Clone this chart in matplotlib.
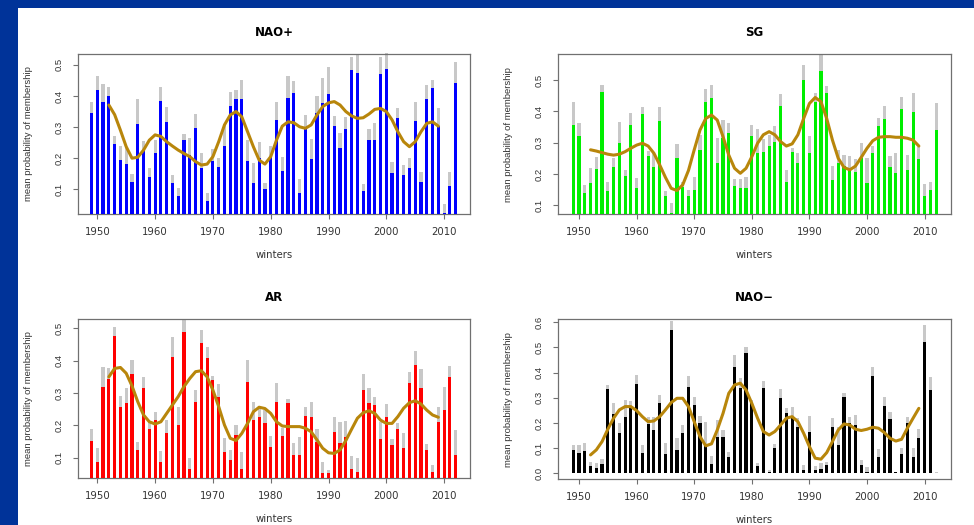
import numpy as np
import matplotlib
matplotlib.use("Agg")
import matplotlib.pyplot as plt
from matplotlib.patches import Rectangle

years = np.arange(1949, 2013)
smooth_years = np.arange(1952, 2010)
xtick_years = [1950, 1960, 1970, 1980, 1990, 2000, 2010]

# ---------------- NAO+ ----------------
naop_mean = [0.345, 0.42, 0.38, 0.40, 0.245, 0.195, 0.18, 0.125, 0.31, 0.226,
             0.138, 0.218, 0.385, 0.317, 0.12, 0.08, 0.258, 0.21, 0.296, 0.17,
             0.064, 0.192, 0.173, 0.24, 0.368, 0.39, 0.39, 0.19, 0.121, 0.2,
             0.1, 0.205, 0.323, 0.16, 0.393, 0.409, 0.087, 0.299, 0.196, 0.346,
             0.379, 0.406, 0.304, 0.232, 0.293, 0.484, 0.473, 0.096, 0.259, 0.259,
             0.47, 0.488, 0.154, 0.33, 0.146, 0.167, 0.32, 0.125, 0.389, 0.425,
             0.304, 0.025, 0.111, 0.441]
naop_upper = [0.38, 0.465, 0.44, 0.43, 0.27, 0.24, 0.237, 0.15, 0.39, 0.256,
              0.17, 0.26, 0.43, 0.363, 0.146, 0.103, 0.277, 0.265, 0.342, 0.218,
              0.087, 0.228, 0.2, 0.31, 0.414, 0.42, 0.453, 0.258, 0.183, 0.253,
              0.121, 0.239, 0.382, 0.203, 0.464, 0.449, 0.132, 0.339, 0.261, 0.4,
              0.457, 0.492, 0.336, 0.28, 0.331, 0.524, 0.532, 0.117, 0.293, 0.312,
              0.526, 0.537, 0.189, 0.36, 0.178, 0.2, 0.382, 0.157, 0.435, 0.451,
              0.36, 0.053, 0.157, 0.51]
naop_smooth = [0.371, 0.34, 0.29, 0.237, 0.2, 0.203, 0.226, 0.258, 0.275, 0.27,
               0.253, 0.239, 0.226, 0.215, 0.205, 0.189, 0.178, 0.181, 0.205, 0.253,
               0.307, 0.339, 0.35, 0.333, 0.285, 0.237, 0.194, 0.181, 0.205, 0.258,
               0.303, 0.317, 0.314, 0.301, 0.296, 0.307, 0.339, 0.366, 0.378, 0.382,
               0.371, 0.35, 0.336, 0.328, 0.33, 0.342, 0.357, 0.36, 0.35, 0.323,
               0.285, 0.253, 0.237, 0.253, 0.285, 0.312, 0.317, 0.303]

# ---------------- SG ----------------
sg_mean = [0.355, 0.321, 0.14, 0.17, 0.215, 0.463, 0.144, 0.223, 0.298, 0.193,
           0.356, 0.154, 0.391, 0.257, 0.221, 0.37, 0.128, 0.076, 0.25, 0.159,
           0.128, 0.149, 0.277, 0.431, 0.441, 0.235, 0.314, 0.332, 0.16, 0.154,
           0.154, 0.321, 0.268, 0.271, 0.289, 0.303, 0.417, 0.175, 0.271, 0.236,
           0.5, 0.268, 0.431, 0.53, 0.457, 0.181, 0.234, 0.225, 0.218, 0.207,
           0.25, 0.17, 0.268, 0.353, 0.374, 0.223, 0.204, 0.406, 0.213, 0.399,
           0.247, 0.128, 0.149, 0.34]
sg_upper = [0.43, 0.364, 0.165, 0.218, 0.255, 0.484, 0.175, 0.25, 0.367, 0.211,
            0.394, 0.186, 0.415, 0.274, 0.266, 0.415, 0.147, 0.106, 0.296, 0.175,
            0.149, 0.191, 0.324, 0.47, 0.484, 0.315, 0.372, 0.362, 0.183, 0.183,
            0.189, 0.356, 0.345, 0.311, 0.325, 0.353, 0.455, 0.213, 0.282, 0.268,
            0.548, 0.32, 0.459, 0.58, 0.48, 0.225, 0.276, 0.26, 0.257, 0.247,
            0.298, 0.25, 0.289, 0.377, 0.417, 0.257, 0.266, 0.447, 0.26, 0.457,
            0.287, 0.168, 0.175, 0.425]
sg_smooth = [0.277, 0.273, 0.268, 0.263, 0.26, 0.263, 0.271, 0.282, 0.292, 0.298,
             0.289, 0.266, 0.229, 0.189, 0.154, 0.147, 0.165, 0.211, 0.277, 0.34,
             0.377, 0.388, 0.372, 0.319, 0.26, 0.218, 0.202, 0.218, 0.255, 0.298,
             0.325, 0.335, 0.325, 0.303, 0.289, 0.296, 0.325, 0.377, 0.425, 0.444,
             0.431, 0.377, 0.308, 0.25, 0.221, 0.213, 0.225, 0.253, 0.282, 0.306,
             0.317, 0.319, 0.319, 0.317, 0.317, 0.314, 0.308, 0.289]

# ---------------- AR ----------------
ar_mean = [0.15, 0.085, 0.318, 0.342, 0.475, 0.258, 0.268, 0.36, 0.124, 0.314,
           0.188, 0.216, 0.088, 0.177, 0.41, 0.201, 0.49, 0.064, 0.273, 0.454,
           0.407, 0.34, 0.289, 0.119, 0.093, 0.17, 0.064, 0.335, 0.216, 0.225,
           0.208, 0.134, 0.273, 0.167, 0.268, 0.108, 0.108, 0.229, 0.227, 0.149,
           0.052, 0.054, 0.18, 0.144, 0.165, 0.064, 0.057, 0.309, 0.27, 0.263,
           0.157, 0.227, 0.139, 0.188, 0.129, 0.332, 0.387, 0.314, 0.124, 0.057,
           0.211, 0.247, 0.351, 0.108]
ar_upper = [0.19, 0.129, 0.381, 0.376, 0.505, 0.291, 0.314, 0.402, 0.149, 0.348,
            0.211, 0.242, 0.122, 0.216, 0.472, 0.258, 0.528, 0.098, 0.309, 0.495,
            0.443, 0.353, 0.328, 0.16, 0.124, 0.201, 0.119, 0.402, 0.273, 0.25,
            0.247, 0.167, 0.33, 0.191, 0.28, 0.144, 0.165, 0.258, 0.273, 0.188,
            0.088, 0.062, 0.227, 0.211, 0.214, 0.105, 0.098, 0.358, 0.314, 0.289,
            0.211, 0.266, 0.157, 0.206, 0.175, 0.366, 0.431, 0.373, 0.142, 0.077,
            0.258, 0.32, 0.384, 0.186]
ar_smooth = [0.35, 0.376, 0.379, 0.361, 0.322, 0.273, 0.232, 0.211, 0.204, 0.211,
             0.237, 0.263, 0.289, 0.32, 0.345, 0.366, 0.369, 0.35, 0.309, 0.258,
             0.201, 0.16, 0.153, 0.175, 0.206, 0.242, 0.256, 0.252, 0.237, 0.211,
             0.198, 0.196, 0.196, 0.196, 0.191, 0.18, 0.155, 0.129, 0.115, 0.113,
             0.124, 0.153, 0.188, 0.222, 0.239, 0.245, 0.237, 0.216, 0.206, 0.206,
             0.227, 0.253, 0.27, 0.276, 0.266, 0.247, 0.232, 0.225]

# ---------------- NAO- ----------------
naom_mean = [0.093, 0.079, 0.089, 0.029, 0.02, 0.037, 0.334, 0.235, 0.159, 0.222,
             0.258, 0.355, 0.079, 0.196, 0.17, 0.278, 0.077, 0.57, 0.093, 0.162,
             0.344, 0.272, 0.199, 0.117, 0.037, 0.146, 0.146, 0.066, 0.421, 0.338,
             0.477, 0.278, 0.029, 0.338, 0.007, 0.099, 0.298, 0.241, 0.219, 0.185,
             0.011, 0.166, 0.013, 0.016, 0.033, 0.185, 0.113, 0.302, 0.201, 0.192,
             0.033, 0.007, 0.387, 0.066, 0.268, 0.215, 0.004, 0.077, 0.199, 0.066,
             0.139, 0.523, 0.331, 0.003]
naom_upper = [0.113, 0.113, 0.119, 0.046, 0.04, 0.056, 0.351, 0.278, 0.201, 0.291,
              0.287, 0.391, 0.113, 0.225, 0.225, 0.311, 0.119, 0.607, 0.139, 0.192,
              0.387, 0.305, 0.228, 0.205, 0.069, 0.212, 0.172, 0.086, 0.47, 0.377,
              0.503, 0.291, 0.04, 0.368, 0.013, 0.117, 0.334, 0.258, 0.265, 0.219,
              0.033, 0.228, 0.029, 0.04, 0.046, 0.219, 0.183, 0.321, 0.225, 0.232,
              0.053, 0.024, 0.421, 0.095, 0.305, 0.245, 0.007, 0.099, 0.223, 0.099,
              0.175, 0.589, 0.381, 0.007]
naom_smooth = [0.073, 0.093, 0.126, 0.175, 0.219, 0.252, 0.265, 0.265, 0.249, 0.225,
               0.205, 0.208, 0.225, 0.252, 0.281, 0.298, 0.298, 0.265, 0.205, 0.146,
               0.109, 0.117, 0.172, 0.238, 0.318, 0.351, 0.358, 0.331, 0.278, 0.219,
               0.166, 0.152, 0.166, 0.192, 0.219, 0.225, 0.205, 0.159, 0.106, 0.06,
               0.056, 0.082, 0.126, 0.172, 0.196, 0.192, 0.175, 0.17, 0.175, 0.183,
               0.179, 0.162, 0.139, 0.128, 0.135, 0.179, 0.219, 0.258]

W, H = 974, 525
fig = plt.figure(figsize=(W / 100, H / 100), dpi=100)
fig.patch.set_facecolor("white")

# slide frame (blue bars at left and top)
fig.patches.append(Rectangle((0, 0), 18 / W, 1, transform=fig.transFigure,
                             facecolor="#003399", edgecolor="none", zorder=-5))
fig.patches.append(Rectangle((0, 1 - 8 / H), 1, 8 / H, transform=fig.transFigure,
                             facecolor="#003399", edgecolor="none", zorder=-5))

panels = [
    dict(title="NAO+", color="#0000ff", mean=naop_mean, upper=naop_upper, smooth=naop_smooth,
         box=(78, 54, 470, 214), xlim=(1946.66, 2014.48), ylim=(0.0206, 0.535),
         yticks=[0.1, 0.2, 0.3, 0.4, 0.5]),
    dict(title="SG", color="#00ee00", mean=sg_mean, upper=sg_upper, smooth=sg_smooth,
         box=(558.3, 54, 950.7, 214.3), xlim=(1946.4, 2014.53), ylim=(0.071, 0.583),
         yticks=[0.1, 0.2, 0.3, 0.4, 0.5]),
    dict(title="AR", color="#ff0000", mean=ar_mean, upper=ar_upper, smooth=ar_smooth,
         box=(78, 319, 470, 478), xlim=(1946.66, 2014.48), ylim=(0.037, 0.529),
         yticks=[0.1, 0.2, 0.3, 0.4, 0.5]),
    dict(title="NAO\u2212", color="#000000", mean=naom_mean, upper=naom_upper, smooth=naom_smooth,
         box=(558.3, 319.3, 950.7, 479.3), xlim=(1946.4, 2014.53), ylim=(-0.024, 0.612),
         yticks=[0.0, 0.1, 0.2, 0.3, 0.4, 0.5, 0.6]),
]

for p in panels:
    x0, y0, x1, y1 = p["box"]
    ax = fig.add_axes([x0 / W, 1 - y1 / H, (x1 - x0) / W, (y1 - y0) / H])
    ax.set_xlim(*p["xlim"])
    ax.set_ylim(*p["ylim"])
    base = max(0.0, p["ylim"][0])
    up = np.array(p["upper"])
    mn = np.array(p["mean"])
    ax.bar(years, up - base, bottom=base, width=0.55, color="#c8c8c8",
           linewidth=0, clip_on=False, zorder=2)
    ax.bar(years, mn - base, bottom=base, width=0.55, color=p["color"],
           linewidth=0, clip_on=False, zorder=3)
    ax.plot(smooth_years, p["smooth"], color="#b8860b", lw=2.2, zorder=4,
            solid_capstyle="round")

    for s in ax.spines.values():
        s.set_color("#707070")
        s.set_linewidth(0.9)
    ax.set_xticks(xtick_years)
    ax.set_xticklabels([str(y) for y in xtick_years], fontsize=7.3,
                       family="DejaVu Sans", color="#333333")
    ax.set_yticks(p["yticks"])
    ax.set_yticklabels(["%.1f" % v for v in p["yticks"]], fontsize=6.8,
                       family="Liberation Sans", color="#333333",
                       rotation=90, va="center")
    ax.tick_params(axis="x", length=3.5, width=0.8, color="#707070", pad=6)
    ax.tick_params(axis="y", length=3.5, width=0.8, color="#707070", pad=7)

    ax.set_title(p["title"], fontsize=8.5, fontweight="bold",
                 family="DejaVu Sans", pad=13)
    ax.set_xlabel("winters", fontsize=7.3, family="DejaVu Sans", color="#333333")
    ax.xaxis.set_label_coords(0.5, -(36) / (y1 - y0))
    ax.set_ylabel("mean probability of membership", fontsize=6.8,
                  family="Liberation Sans", color="#333333")
    ax.yaxis.set_label_coords(-45 / (x1 - x0), 0.5)

fig.savefig("out.png", dpi=100)
